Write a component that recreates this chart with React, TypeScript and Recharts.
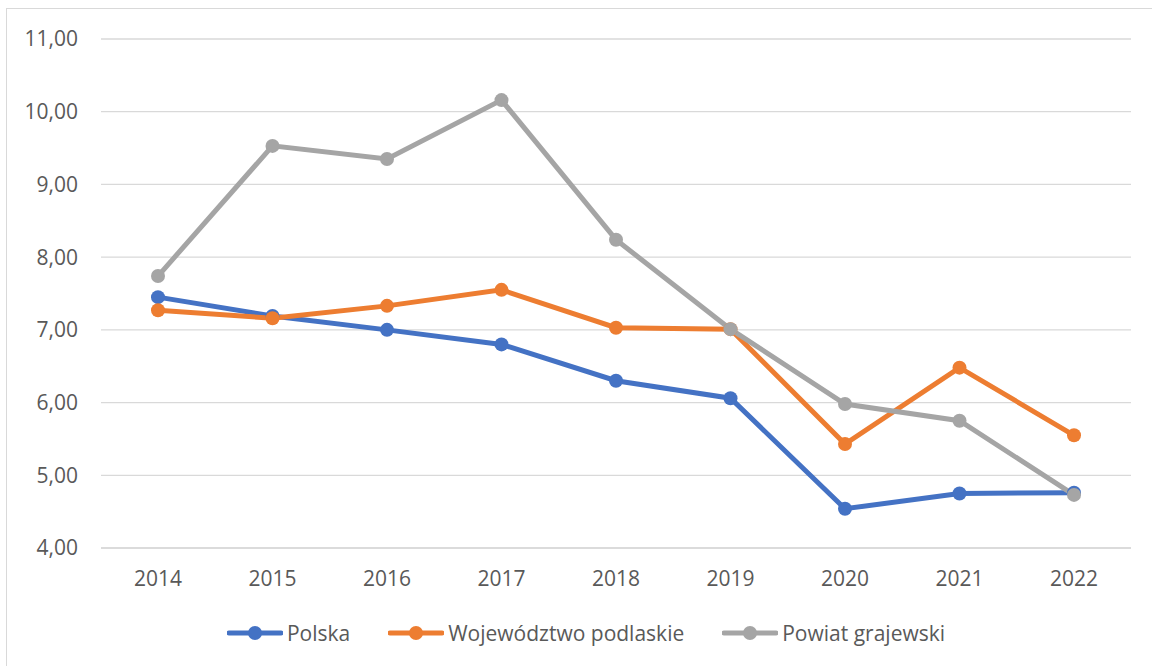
import React from "react";
import { LineChart, Line, XAxis, YAxis, CartesianGrid, Legend } from "recharts";

const years = ["2014", "2015", "2016", "2017", "2018", "2019", "2020", "2021", "2022"];
const polska = [7.45, 7.19, 7.0, 6.8, 6.3, 6.06, 4.54, 4.75, 4.76];
const podlaskie = [7.27, 7.16, 7.33, 7.55, 7.03, 7.01, 5.43, 6.48, 5.55];
const grajewski = [7.74, 9.53, 9.35, 10.16, 8.24, 7.01, 5.98, 5.75, 4.73];
const yTicks = [4, 5, 6, 7, 8, 9, 10, 11];

const seriesNames = ["Polska", "Województwo podlaskie", "Powiat grajewski"];
const seriesColors = ["#4472C4", "#ED7D31", "#A5A5A5"];

const data = years.map((y, i) => ({
  year: y,
  s0: polska[i],
  s1: podlaskie[i],
  s2: grajewski[i],
}));

const FONT = "'Open Sans', sans-serif";
const TEXT = "#595959";

const renderLegend = () => (
  <div
    style={{
      display: "flex",
      justifyContent: "center",
      alignItems: "center",
      fontFamily: FONT,
      fontSize: 21,
      color: TEXT,
      paddingLeft: 20,
      paddingTop: 13,
    }}
  >
    {seriesNames.map((n, i) => (
      <div key={n} style={{ display: "flex", alignItems: "center", marginRight: i < 2 ? 38 : 0 }}>
        <svg width={56} height={16} style={{ marginRight: 4 }}>
          <line x1={2} y1={8} x2={54} y2={8} stroke={seriesColors[i]} strokeWidth={5} strokeLinecap="round" />
          <circle cx={28} cy={8} r={7} fill={seriesColors[i]} />
        </svg>
        <span>{n}</span>
      </div>
    ))}
  </div>
);

export default function App() {
  return (
    <div style={{ position: "absolute", left: 0, top: 0, width: 1152, height: 666, background: "#fff", overflow: "hidden" }}>
      <div
        style={{
          position: "absolute",
          left: 6,
          top: 8,
          width: 1160,
          height: 680,
          border: "1.5px solid #D9D9D9",
          boxSizing: "border-box",
        }}
      />
      <div style={{ position: "absolute", left: 0, top: 0 }}>
        <LineChart
          width={1152}
          height={666}
          data={data}
          margin={{ top: 39, right: 21, left: 21, bottom: 10 }}
        >
          <CartesianGrid vertical={false} stroke="#D9D9D9" strokeWidth={1.3} />
          <XAxis
            dataKey="year"
            axisLine={{ stroke: "#D9D9D9", strokeWidth: 1.3 }}
            tickLine={false}
            padding={{ left: 57, right: 57 }}
            tick={{ fill: TEXT, fontFamily: FONT, fontSize: 21 }}
            tickMargin={17}
            height={58}
          />
          <YAxis
            domain={[4, 11]}
            ticks={yTicks}
            width={80}
            axisLine={false}
            tickLine={false}
            tickMargin={17}
            tick={{ fill: TEXT, fontFamily: FONT, fontSize: 21 }}
            tickFormatter={(v: number) => v.toFixed(2).replace(".", ",")}
          />
          <Legend verticalAlign="bottom" height={50} content={renderLegend} />
          {[0, 1, 2].map((i) => (
            <Line
              key={i}
              dataKey={`s${i}`}
              name={seriesNames[i]}
              stroke={seriesColors[i]}
              strokeWidth={5}
              dot={{ r: 7, fill: seriesColors[i], stroke: seriesColors[i], strokeWidth: 0 }}
              activeDot={false}
              isAnimationActive={false}
            />
          ))}
        </LineChart>
      </div>
    </div>
  );
}
